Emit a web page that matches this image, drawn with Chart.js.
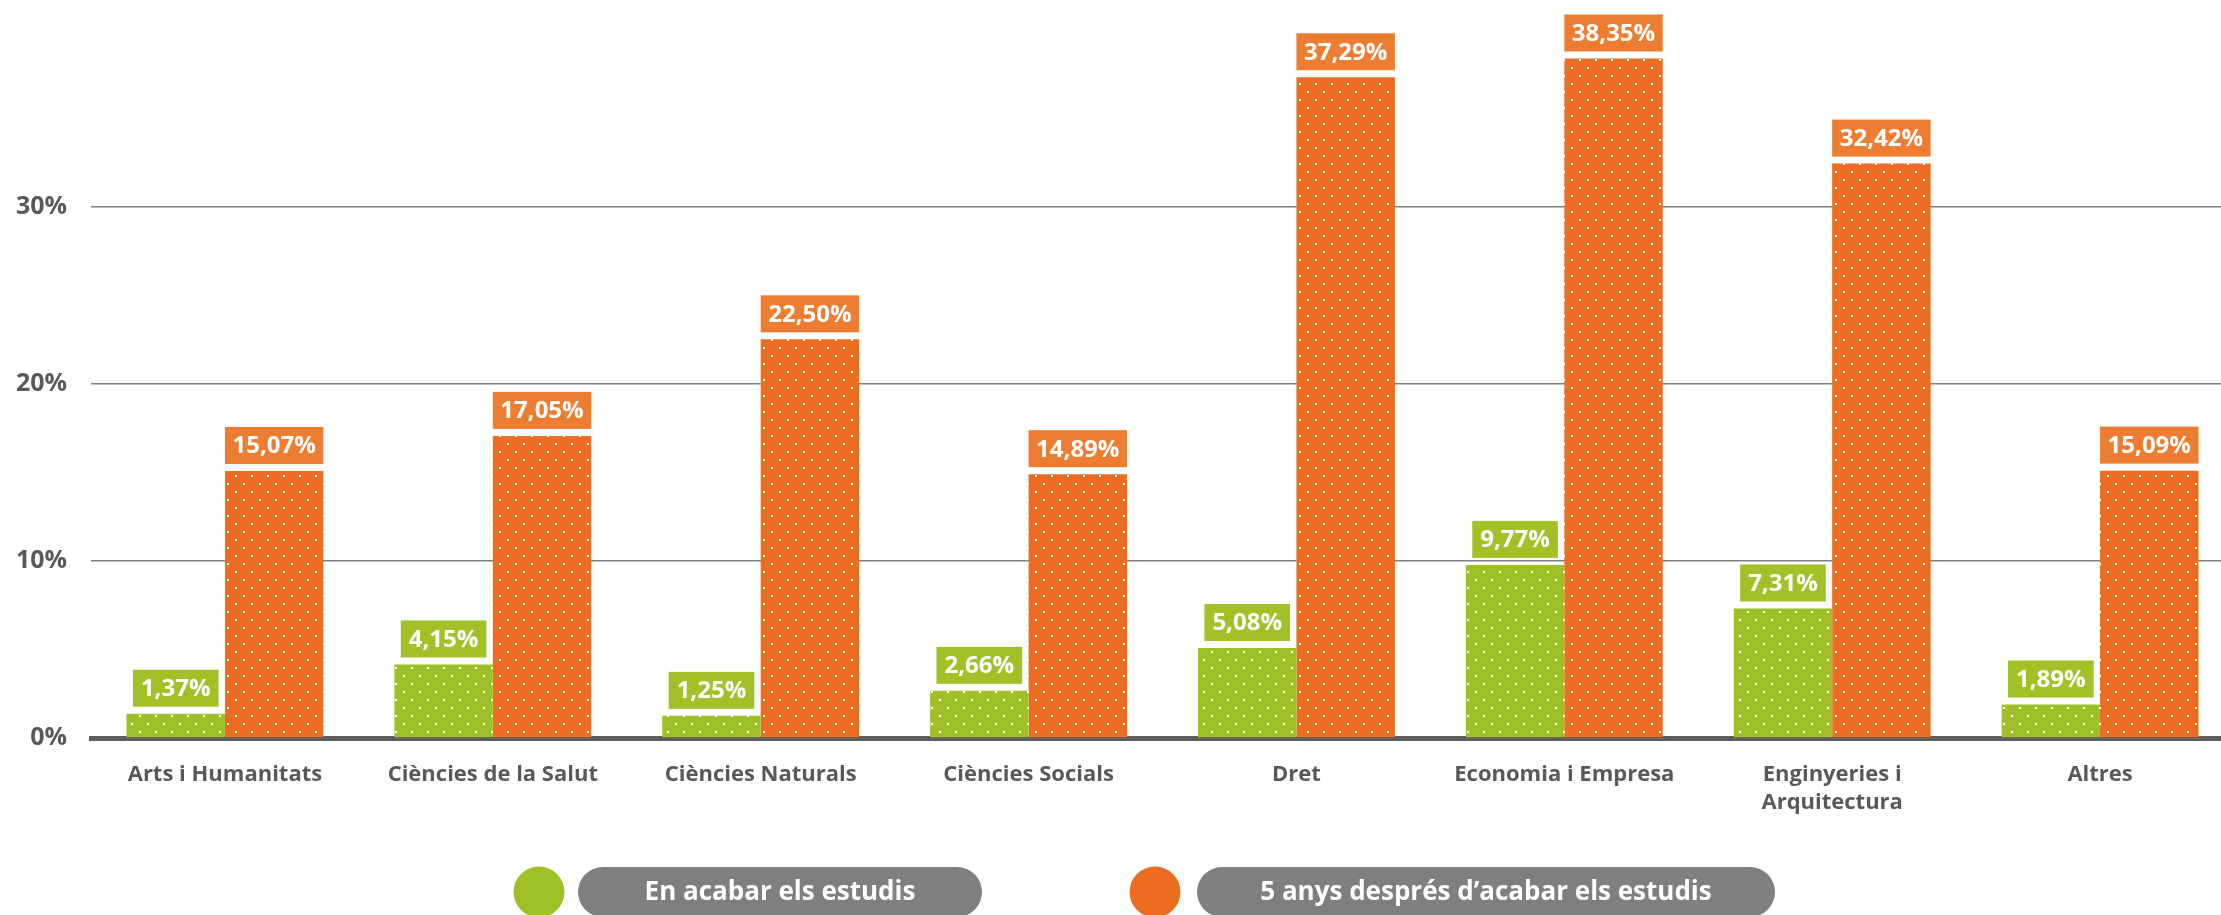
<!DOCTYPE html>
<html lang="ca">
<head>
  <meta charset="UTF-8">
  <title>Ocupació per àmbit d'estudis</title>
  <script src="https://cdn.jsdelivr.net/npm/chart.js"></script>
  <style>
    html, body {
      margin: 0;
      padding: 0;
      background: #fff;
      overflow: hidden;
    }
    #wrap {
      width: 2234px;
      height: 915px;
    }
  </style>
</head>
<body>
  <div id="wrap"><canvas id="chart" width="2234" height="915"></canvas></div>
  <script>
  // dades
  const categories = [
    'Arts i Humanitats',
    'Ciències de la Salut',
    'Ciències Naturals',
    'Ciències Socials',
    'Dret',
    'Economia i Empresa',
    ['Enginyeries i', 'Arquitectura'],
    'Altres'
  ];
  const seriesNames = ['En acabar els estudis', '5 anys després d’acabar els estudis'];
  const atGraduation = [1.37, 4.15, 1.25, 2.66, 5.08, 9.77, 7.31, 1.89];
  const fiveYearsLater = [15.07, 17.05, 22.50, 14.89, 37.29, 38.35, 32.42, 15.09];
  const yTicks = [0, 10, 20, 30];

  const barColors = ['#9fc127', '#ec6c22'];
  const boxColors = ['#a2c127', '#ed7d31'];
  const FONT = '"Open Sans", Lato, sans-serif';

  const canvas = document.getElementById('chart');
  const mainCtx = canvas.getContext('2d');

  // fons amb punts blancs
  function dotted(base) {
    const c = document.createElement('canvas');
    c.width = 16;
    c.height = 16;
    const g = c.getContext('2d');
    g.fillStyle = base;
    g.fillRect(0, 0, 16, 16);
    g.fillStyle = '#ffffff';
    g.fillRect(3, 3, 2, 2);
    g.fillRect(11, 11, 2, 2);
    return mainCtx.createPattern(c, 'repeat');
  }

  function fmt(v) {
    return v.toFixed(2).replace('.', ',') + '%';
  }

  const valueLabels = {
    id: 'valueLabels',
    afterDatasetsDraw(chart) {
      const ctx = chart.ctx;
      ctx.save();
      ctx.font = 'bold 24px ' + FONT;
      ctx.textAlign = 'center';
      ctx.textBaseline = 'middle';
      chart.data.datasets.forEach((ds, di) => {
        chart.getDatasetMeta(di).data.forEach((bar, i) => {
          const txt = fmt(ds.data[i]);
          const w = Math.min(ctx.measureText(txt).width + 16, bar.width);
          const h = 37;
          const bottom = bar.y - 7;
          ctx.fillStyle = boxColors[di];
          ctx.fillRect(bar.x - w / 2, bottom - h, w, h);
          ctx.fillStyle = '#ffffff';
          ctx.fillText(txt, bar.x, bottom - h / 2 + 1);
        });
      });
      ctx.restore();
    }
  };

  // llegenda en forma de píndola
  const pillLegend = {
    id: 'pillLegend',
    afterDraw(chart) {
      const ctx = chart.ctx;
      const items = [
        { cx: 539, x: 578, w: 404 },
        { cx: 1155, x: 1197, w: 578 }
      ];
      const cy = 892;
      const h = 50;
      ctx.save();
      ctx.font = 'bold 26px ' + FONT;
      ctx.textAlign = 'center';
      ctx.textBaseline = 'middle';
      chart.data.datasets.forEach((ds, i) => {
        const it = items[i];
        ctx.fillStyle = barColors[i];
        ctx.beginPath();
        ctx.arc(it.cx, cy, 25.5, 0, Math.PI * 2);
        ctx.fill();

        ctx.fillStyle = '#7f7f7f';
        ctx.beginPath();
        ctx.roundRect(it.x, cy - h / 2, it.w, h, h / 2);
        ctx.fill();

        ctx.fillStyle = '#ffffff';
        ctx.fillText(ds.label, it.x + it.w / 2, cy + 1);
      });
      ctx.restore();
    }
  };

  new Chart(canvas, {
    type: 'bar',
    data: {
      labels: categories,
      datasets: [
        {
          label: seriesNames[0],
          data: atGraduation,
          backgroundColor: dotted(barColors[0]),
          borderWidth: 0
        },
        {
          label: seriesNames[1],
          data: fiveYearsLater,
          backgroundColor: dotted(barColors[1]),
          borderWidth: 0
        }
      ]
    },
    options: {
      responsive: false,
      animation: false,
      layout: { padding: 0 },
      datasets: {
        bar: { categoryPercentage: 0.735, barPercentage: 1.0 }
      },
      plugins: {
        legend: { display: false },
        tooltip: { enabled: false }
      },
      scales: {
        x: {
          z: 1,
          grid: { display: false, drawTicks: false },
          border: { display: true, color: '#5e5e5e', width: 5 },
          ticks: {
            color: '#595959',
            padding: 22,
            maxRotation: 0,
            autoSkip: false,
            font: { family: FONT, size: 22, weight: 'bold', lineHeight: 1.3 }
          },
          afterFit(scale) { scale.height = 177; }
        },
        y: {
          min: 0,
          max: 39.45,
          afterBuildTicks(scale) {
            scale.ticks = yTicks.map(v => ({ value: v }));
          },
          grid: {
            drawTicks: false,
            color: c => c.tick && c.tick.value === 0 ? 'rgba(0,0,0,0)' : '#808080',
            lineWidth: 1.5
          },
          border: { display: false },
          ticks: {
            color: '#595959',
            padding: 24,
            font: { family: FONT, size: 25, weight: 'bold' },
            callback: v => v + '%'
          },
          afterFit(scale) { scale.width = 91; }
        }
      }
    },
    plugins: [valueLabels, pillLegend]
  });
  </script>
</body>
</html>
